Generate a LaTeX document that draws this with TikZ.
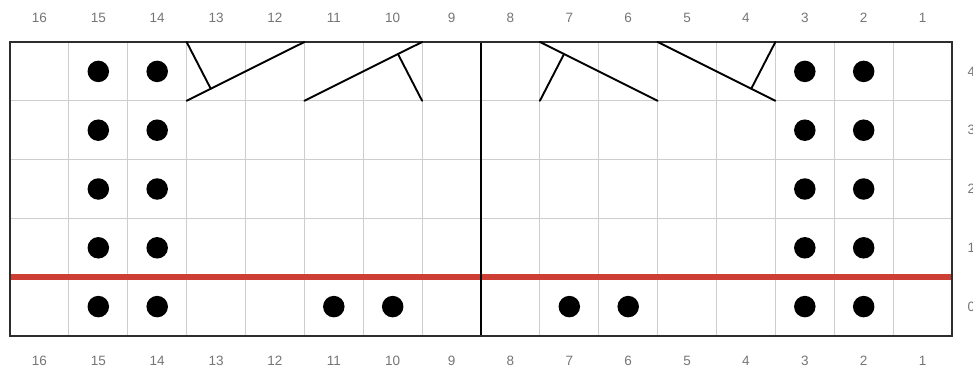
\documentclass[tikz,border=0pt]{standalone}
\usepackage{fontspec}
\setmainfont{Liberation Sans}
\definecolor{redline}{RGB}{205,62,52}
\definecolor{labgray}{RGB}{118,118,118}
\definecolor{gridgray}{RGB}{205,205,205}
\definecolor{bordergray}{RGB}{45,45,45}
\begin{document}
\begin{tikzpicture}[x=1pt,y=-1pt,
  gridline/.style={draw=gridgray, line width=0.9pt},
  redrule/.style={draw=redline, line width=5.8pt},
  border/.style={draw=bordergray, line width=1.8pt},
  divider/.style={draw=black, line width=1.5pt},
  cable/.style={draw=black, line width=1.9pt, line cap=round},
  dot/.style={circle, fill=black, inner sep=0pt, minimum size=21.5pt},
  lab/.style={text=labgray, font=\fontsize{13.5}{15}\selectfont, inner sep=0pt}]
\clip (0,0) rectangle (973,372);
\fill[white] (0,0) rectangle (973,372);
\def\L{10}\def\T{42}\def\W{58.875}\def\H{58.8}
% grid lines
\foreach \i in {1,...,7,9,10,...,15}
  \draw[gridline] ({\L+\i*\W},\T) -- ({\L+\i*\W},{\T+5*\H});
\foreach \j in {1,2,3}
  \draw[gridline] (\L,{\T+\j*\H}) -- ({\L+16*\W},{\T+\j*\H});
% red rule between rows 1 and 0
\draw[redrule] (\L,{\T+4*\H}) -- ({\L+16*\W},{\T+4*\H});
% centre divider
\draw[divider] ({\L+8*\W},\T) -- ({\L+8*\W},{\T+5*\H});
% border
\draw[border] (\L,\T) rectangle ({\L+16*\W},{\T+5*\H});
% column labels
\foreach \n in {1,...,16} {
  \node[lab] (top\n) at ({\L+(16-\n+0.5)*\W},18) {\n};
  \node[lab] (bot\n) at ({\L+(16-\n+0.5)*\W},361) {\n};
}
% row labels (partly cut by the right edge)
\foreach \r in {0,...,4}
  \node[lab, anchor=west] (row\r) at (967.5,{\T+(4-\r+0.5)*\H}) {\r};
% dots on all rows
\foreach \c in {15,14,3,2}
  \foreach \r in {0,...,4}
    \node[dot] (d\c-\r) at ({\L+(16-\c+0.5)*\W},{\T+(4-\r+0.5)*\H}) {};
% extra dots on row 0
\foreach \c in {11,10,7,6}
  \node[dot] (d\c-0) at ({\L+(16-\c+0.5)*\W},{\T+4.5*\H}) {};
% cable symbols in row 4
% cols 13-12
\draw[cable] ({\L+3*\W},{\T+\H}) -- ({\L+5*\W},\T);
\draw[cable] ({\L+3*\W},\T) -- ({\L+3*\W+0.205*2*\W},{\T+\H-0.205*\H});
% cols 11-10
\draw[cable] ({\L+5*\W},{\T+\H}) -- ({\L+7*\W},\T);
\draw[cable] ({\L+7*\W},{\T+\H}) -- ({\L+5*\W+0.795*2*\W},{\T+\H-0.795*\H});
% cols 7-6
\draw[cable] ({\L+9*\W},\T) -- ({\L+11*\W},{\T+\H});
\draw[cable] ({\L+9*\W},{\T+\H}) -- ({\L+9*\W+0.205*2*\W},{\T+0.205*\H});
% cols 5-4
\draw[cable] ({\L+11*\W},\T) -- ({\L+13*\W},{\T+\H});
\draw[cable] ({\L+13*\W},\T) -- ({\L+11*\W+0.795*2*\W},{\T+0.795*\H});
\end{tikzpicture}
\end{document}
